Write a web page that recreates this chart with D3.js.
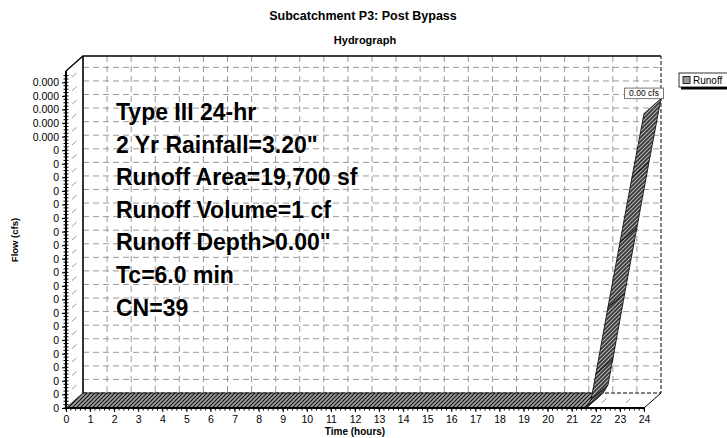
<!DOCTYPE html>
<html>
<head>
<meta charset="utf-8">
<script src="https://cdn.jsdelivr.net/npm/d3@7"></script>
<style>
  body { margin: 0; background: #fff; }
  svg { display: block; font-family: "Liberation Sans", Arial, Helvetica, sans-serif; }
</style>
</head>
<body>
<div id="viz"></div>
<script>
// hydrograph (hours, cfs)
const times = [0, 21.6, 21.8, 22.0, 22.5, 23.0, 23.5, 24.0];
const flows = [0, 0, 0.000006, 0.000025, 0.000074, 0.000122, 0.00017, 0.000217];

const xTickValues = d3.range(0, 25);
const yTickValues = d3.range(0, 25).map(i => i * 0.00001);
const yTickLabels = ['0', '0', '0', '0', '0', '0', '0', '0', '0', '0', '0', '0', '0', '0', '0', '0', '0', '0', '0', '0',
    '0.000', '0.000', '0.000', '0.000', '0.000'];

const infoLines = ['Type III 24-hr', '2 Yr Rainfall=3.20"', 'Runoff Area=19,700 sf', 'Runoff Volume=1 cf',
    'Runoff Depth>0.00"', 'Tc=6.0 min', 'CN=39'];
const peakLabel = '0.00 cfs';
const seriesName = 'Runoff';

function buildChart(containerId) {
    const width = 727;
    const height = 438;
    const depth = { dx: 17, dy: -15 };

    const svg = d3.select(containerId)
        .append('svg')
        .attr('width', width)
        .attr('height', height);

    const x = d3.scaleLinear().domain([0, 24]).range([66, 644]);
    const y = d3.scaleLinear().domain([0, 0.0002484]).range([408, 71]);

    const x0 = x(0), x1 = x(24), yb = y(0), yt = y.range()[1];

    const defs = svg.append('defs');
    function hatch(id, bg, fg) {
        const p = defs.append('pattern')
            .attr('id', id)
            .attr('patternUnits', 'userSpaceOnUse')
            .attr('width', 4)
            .attr('height', 4);
        p.append('rect').attr('width', 4).attr('height', 4).attr('fill', bg);
        p.append('path')
            .attr('d', 'M-1,1 l2,-2 M0,4 l4,-4 M3,5 l2,-2')
            .attr('stroke', fg)
            .attr('stroke-width', 1.1);
    }
    hatch('floorHatch', '#a0a0a0', '#111');
    hatch('riseHatch', '#383838', '#b4b4b4');

    // titles
    svg.append('text')
        .attr('x', 363).attr('y', 20)
        .attr('text-anchor', 'middle')
        .attr('font-size', 12.5).attr('font-weight', 'bold')
        .text('Subcatchment P3: Post Bypass');
    svg.append('text')
        .attr('x', 365).attr('y', 44)
        .attr('text-anchor', 'middle')
        .attr('font-size', 11).attr('font-weight', 'bold')
        .text('Hydrograph');

    const grid = svg.append('g')
        .attr('fill', 'none')
        .attr('stroke', '#9a9a9a')
        .attr('stroke-width', 1)
        .attr('stroke-dasharray', '6,4');

    // back wall grid
    grid.selectAll('.hgrid')
        .data(yTickValues.slice(1))
        .enter().append('line')
        .attr('x1', x0 + depth.dx).attr('x2', x1 + depth.dx)
        .attr('y1', d => y(d) + depth.dy).attr('y2', d => y(d) + depth.dy);
    grid.selectAll('.vgrid')
        .data(xTickValues.slice(1, -1))
        .enter().append('line')
        .attr('x1', d => x(d) + depth.dx).attr('x2', d => x(d) + depth.dx)
        .attr('y1', yt + depth.dy).attr('y2', yb + depth.dy);

    // side wall and floor diagonals
    grid.selectAll('.sgrid')
        .data(yTickValues.slice(1))
        .enter().append('line')
        .attr('stroke-dasharray', '0,8,6,20')
        .attr('x1', x0).attr('y1', d => y(d))
        .attr('x2', x0 + depth.dx).attr('y2', d => y(d) + depth.dy);
    grid.selectAll('.fgrid')
        .data(xTickValues.slice(1, -1))
        .enter().append('line')
        .attr('stroke-dasharray', '0,8,6,20')
        .attr('x1', d => x(d)).attr('y1', yb)
        .attr('x2', d => x(d) + depth.dx).attr('y2', yb + depth.dy);

    // frame
    const frame = svg.append('g').attr('fill', 'none').attr('stroke', '#000');
    frame.append('path')
        .attr('stroke-width', 1.3)
        .attr('d', `M${x0},${yt} L${x0 + depth.dx},${yt + depth.dy} L${x1 + depth.dx},${yt + depth.dy}`);
    frame.append('line')
        .attr('stroke-width', 1.6)
        .attr('x1', x0 + depth.dx).attr('x2', x0 + depth.dx)
        .attr('y1', yt + depth.dy).attr('y2', yb + depth.dy);
    frame.append('path')
        .attr('stroke-width', 1)
        .attr('stroke-dasharray', '4,2')
        .attr('d', `M${x0 + depth.dx},${yb + depth.dy} L${x1 + depth.dx},${yb + depth.dy} L${x1 + depth.dx},${yt + depth.dy}`);
    frame.append('line')
        .attr('stroke-width', 1)
        .attr('x1', x1).attr('y1', yb)
        .attr('x2', x1 + depth.dx).attr('y2', yb + depth.dy);

    // info text
    svg.append('g')
        .selectAll('text')
        .data(infoLines)
        .enter().append('text')
        .attr('x', 116)
        .attr('y', (d, i) => 120 + i * 32.6)
        .attr('font-size', 23)
        .attr('font-weight', 'bold')
        .text(d => d);

    // 3D ribbon for the series
    const pts = times.map((t, i) => [x(t), y(flows[i])]);
    const ribbon = svg.append('g').attr('stroke', '#000').attr('stroke-width', 0.8);
    for (let i = 0; i < pts.length - 1; i++) {
        const a = pts[i], b = pts[i + 1];
        const flat = flows[i] === 0 && flows[i + 1] === 0;
        ribbon.append('path')
            .attr('fill', flat ? 'url(#floorHatch)' : 'url(#riseHatch)')
            .attr('d', `M${a[0]},${a[1]} L${b[0]},${b[1]} L${b[0] + depth.dx},${b[1] + depth.dy} L${a[0] + depth.dx},${a[1] + depth.dy}Z`);
    }

    // axes
    const xAxis = d3.axisBottom(x).tickValues(xTickValues).tickSize(4).tickFormat(d3.format('d'));
    const xg = svg.append('g')
        .attr('transform', `translate(0,${yb})`)
        .call(xAxis);
    xg.selectAll('.tick line').attr('transform', 'translate(0,-1)').attr('y2', 5);
    xg.append('g').selectAll('line')
        .data(d3.range(0, 24.01, 0.2))
        .enter().append('line')
        .attr('x1', d => x(d)).attr('x2', d => x(d))
        .attr('y1', 0).attr('y2', 2.5)
        .attr('stroke', '#000');

    const yAxis = d3.axisLeft(y).tickValues(yTickValues).tickSize(4)
        .tickFormat((d, i) => yTickLabels[i]);
    const yg = svg.append('g')
        .attr('transform', `translate(${x0},0)`)
        .call(yAxis);
    yg.append('g').selectAll('line')
        .data(d3.range(0, 24.5 * 4 + 1).map(i => i * 0.0000025))
        .enter().append('line')
        .attr('x1', -2.5).attr('x2', 2.5)
        .attr('y1', d => y(d)).attr('y2', d => y(d))
        .attr('stroke', '#000');

    [xg, yg].forEach(g => {
        g.select('.domain').attr('stroke-width', 2);
        g.selectAll('.tick text')
            .attr('font-family', 'Liberation Sans, Arial, sans-serif')
            .attr('font-size', 10.5)
            .attr('fill', '#000');
    });
    xg.select('.domain').attr('d', `M${x0},0 H${x1}`);
    yg.select('.domain').attr('d', `M0,${yb} V${yt}`);
    xg.selectAll('.tick text').attr('y', 8);
    yg.selectAll('.tick text').attr('x', -7);

    svg.append('text')
        .attr('x', 355).attr('y', 435)
        .attr('text-anchor', 'middle')
        .attr('font-size', 10).attr('font-weight', 'bold')
        .text('Time  (hours)');
    svg.append('text')
        .attr('transform', 'translate(18,240) rotate(-90)')
        .attr('text-anchor', 'middle')
        .attr('font-size', 9.5).attr('font-weight', 'bold')
        .text('Flow  (cfs)');

    // peak label
    const pk = pts[pts.length - 1];
    const lbl = svg.append('g')
        .attr('transform', `translate(${pk[0]},${pk[1] + depth.dy})`);
    lbl.append('rect')
        .attr('x', -19.5).attr('y', -10.5)
        .attr('width', 39).attr('height', 10.5)
        .attr('fill', '#fff').attr('stroke', '#777').attr('stroke-width', 1);
    lbl.append('text')
        .attr('y', -2.5)
        .attr('text-anchor', 'middle')
        .attr('font-size', 8.5)
        .text(peakLabel);

    // legend
    const leg = svg.append('g').attr('transform', 'translate(679,73)');
    leg.append('rect')
        .attr('x', 2).attr('y', 2.5).attr('width', 60).attr('height', 14)
        .attr('fill', '#000');
    leg.append('rect')
        .attr('width', 60).attr('height', 14)
        .attr('fill', '#fff').attr('stroke', '#000').attr('stroke-width', 0.8);
    leg.append('rect')
        .attr('x', 4).attr('y', 3.5).attr('width', 7).attr('height', 7)
        .attr('fill', '#999').attr('stroke', '#000').attr('stroke-width', 0.8);
    leg.append('text')
        .attr('x', 14).attr('y', 10.5)
        .attr('font-size', 10)
        .text(seriesName);
}

buildChart('#viz');
</script>
</body>
</html>
